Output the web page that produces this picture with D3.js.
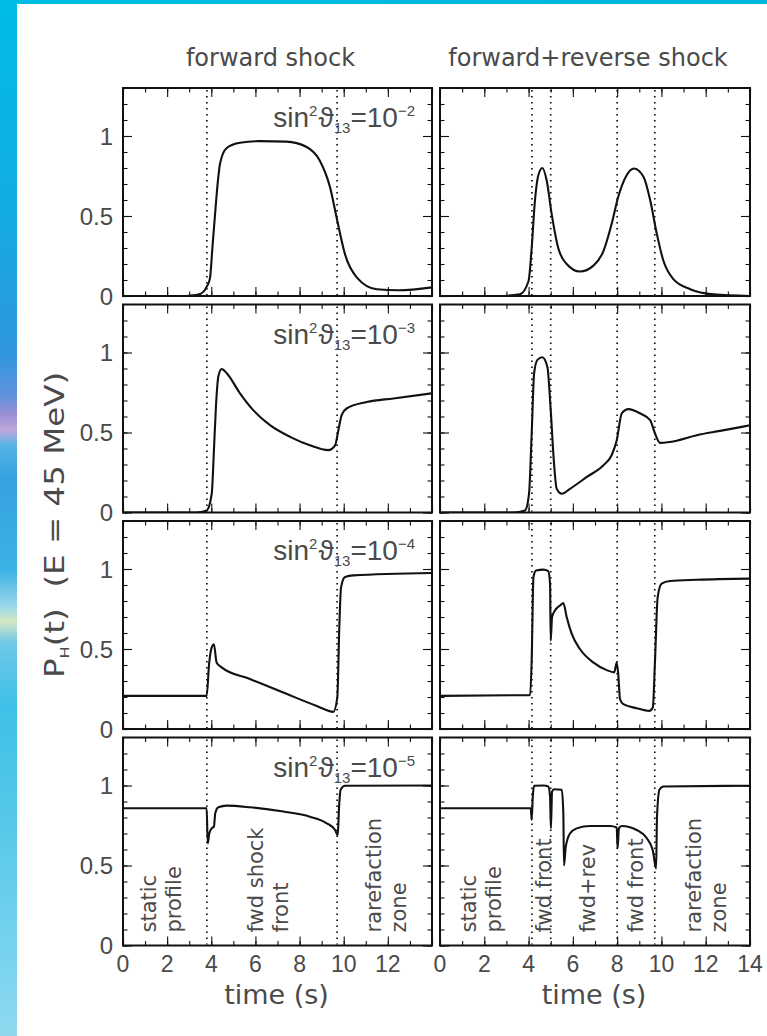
<!DOCTYPE html>
<html>
<head>
<meta charset="utf-8">
<script src="https://cdn.jsdelivr.net/npm/d3@7"></script>
<style>
  html, body { margin: 0; padding: 0; background: #fff; }
  svg { display: block; }
</style>
</head>
<body>
<svg id="chart" width="767" height="1036"></svg>
<script>
// ---------- data ----------
const timeTicks = [0, 2, 4, 6, 8, 10, 12, 14];
const probTicks = [0, 0.5, 1];
const columnTitles = ["forward shock", "forward+reverse shock"];
const mixingExponents = ["\u22122", "\u22123", "\u22124", "\u22125"];

// shock-front crossing times (s)
const fwdBoundaries = [3.8, 9.7];
const fwdRevBoundaries = [4.15, 5.0, 8.0, 9.7];

// zone captions in the lowest row, centred on a time value
const fwdZones = [
  { t: 1.7,  lines: ["static", "profile"] },
  { t: 6.55, lines: ["fwd shock", "front"] },
  { t: 11.9, lines: ["rarefaction", "zone"] }
];
const fwdRevZones = [
  { t: 1.83, lines: ["static", "profile"] },
  { t: 4.65, lines: ["fwd front"] },
  { t: 6.64, lines: ["fwd+rev"] },
  { t: 8.81, lines: ["fwd front"] },
  { t: 11.99, lines: ["rarefaction", "zone"] }
];

// P_H(t) at E = 45 MeV, [time (s), probability]
const fwd_1e2 = [[0,0],[2.7,0],[3.0,0.002],[3.5,0.013],[3.8,0.06],[3.94,0.11],[4.05,0.3],[4.17,0.51],[4.3,0.72],[4.4,0.83],[4.7,0.925],[5.3,0.958],[6.2,0.968],[7.4,0.965],[8.3,0.933],[8.9,0.85],[9.38,0.68],[9.71,0.47],[10.06,0.26],[10.6,0.115],[11.5,0.042],[12.5,0.036],[14,0.054]];
const fwdRev_1e2 = [[0,0],[2.6,0],[3.6,0.01],[4.0,0.094],[4.14,0.30],[4.29,0.60],[4.44,0.755],[4.62,0.80],[4.82,0.72],[5.04,0.515],[5.34,0.30],[5.72,0.20],[6.32,0.153],[6.93,0.19],[7.38,0.28],[7.75,0.45],[8.05,0.62],[8.43,0.755],[8.76,0.797],[9.19,0.745],[9.49,0.60],[9.79,0.39],[10.09,0.22],[10.54,0.105],[11.3,0.042],[12.35,0.01],[14,0]];

const fwd_1e3 = [[0,0],[3.3,0],[3.79,0.013],[4.02,0.117],[4.12,0.39],[4.21,0.66],[4.32,0.85],[4.47,0.897],[4.7,0.87],[5.3,0.745],[5.9,0.64],[6.66,0.546],[7.57,0.473],[8.47,0.42],[9.3,0.39],[9.61,0.42],[9.76,0.515],[9.91,0.61],[10.13,0.65],[11.04,0.69],[12.25,0.713],[14,0.745]];
const fwdRev_1e3 = [[0,0],[3.3,0],[3.84,0.013],[4.02,0.117],[4.14,0.49],[4.25,0.87],[4.4,0.954],[4.62,0.97],[4.85,0.91],[5.0,0.64],[5.15,0.305],[5.27,0.148],[5.5,0.117],[5.87,0.148],[6.63,0.222],[7.38,0.295],[7.75,0.358],[7.98,0.45],[8.21,0.62],[8.51,0.646],[9.03,0.62],[9.49,0.577],[9.71,0.494],[9.94,0.435],[10.39,0.441],[11.6,0.483],[12.65,0.51],[14,0.545]];

const fwd_1e4 = [[0,0.207],[3.79,0.207],[3.9,0.406],[4.02,0.51],[4.12,0.53],[4.24,0.416],[4.47,0.385],[5.75,0.312],[7.26,0.228],[8.78,0.144],[9.53,0.107],[9.71,0.197],[9.8,0.636],[9.88,0.887],[10.06,0.95],[10.44,0.96],[14,0.975]];
const fwdRev_1e4 = [[0,0.207],[4.07,0.212],[4.14,0.427],[4.22,0.95],[4.34,0.99],[4.67,0.996],[4.89,0.987],[4.97,0.908],[5.0,0.552],[5.06,0.70],[5.19,0.74],[5.42,0.772],[5.57,0.787],[5.72,0.70],[5.95,0.594],[6.32,0.50],[6.92,0.416],[7.53,0.368],[7.87,0.354],[7.98,0.416],[8.05,0.343],[8.13,0.186],[8.28,0.155],[8.88,0.13],[9.45,0.113],[9.61,0.134],[9.71,0.427],[9.83,0.824],[10.01,0.908],[10.39,0.925],[11.6,0.933],[14,0.94]];

const fwd_1e5 = [[0,0.858],[3.79,0.858],[3.84,0.638],[3.91,0.70],[4.02,0.732],[4.12,0.743],[4.18,0.826],[4.32,0.864],[4.7,0.874],[5.75,0.864],[7.26,0.837],[8.47,0.805],[9.23,0.764],[9.61,0.722],[9.73,0.69],[9.79,0.868],[9.86,0.973],[10.06,0.998],[14,1.0]];
const fwdRev_1e5 = [[0,0.858],[4.1,0.858],[4.14,0.785],[4.19,0.93],[4.25,0.998],[4.67,1.0],[4.89,0.994],[4.97,0.93],[5.01,0.732],[5.06,0.962],[5.15,0.977],[5.5,0.973],[5.57,0.826],[5.6,0.50],[5.68,0.617],[5.87,0.70],[6.17,0.732],[6.78,0.747],[7.68,0.747],[7.98,0.738],[8.02,0.607],[8.08,0.732],[8.21,0.747],[8.88,0.722],[9.34,0.67],[9.61,0.596],[9.76,0.481],[9.8,0.805],[9.91,0.973],[10.09,0.994],[14,0.998]];

const curves = [
  [fwd_1e2, fwdRev_1e2],
  [fwd_1e3, fwdRev_1e3],
  [fwd_1e4, fwdRev_1e4],
  [fwd_1e5, fwdRev_1e5]
];
const boundaries = [fwdBoundaries, fwdRevBoundaries];
const zones = [fwdZones, fwdRevZones];

// ---------- layout ----------
const svg = d3.select("#chart");
const W = 767, H = 1036;
const colX = [123, 440], colW = [309, 310];
const rowY = [88, 304.5, 521, 737.5], rowH = 208;
const ink = "#111", textInk = "#4a4a4a";
const tickFont = "'Liberation Sans', Arial, sans-serif";
const labelFont = "'DejaVu Sans', Verdana, sans-serif";

// ---------- decorative frame ----------
const defs = svg.append("defs");
const strip = defs.append("linearGradient").attr("id", "strip")
  .attr("x1", 0).attr("y1", 0).attr("x2", 0).attr("y2", 1);
[[0, "#00bde6"], [0.2, "#12ace3"], [0.34, "#2f96df"], [0.38, "#5c93dc"], [0.4, "#9a8fd6"], [0.415, "#c0a8da"],
 [0.43, "#55b3e6"], [0.46, "#36a2e0"], [0.55, "#3cb2e5"], [0.585, "#9ad6ea"], [0.6, "#d3e9c4"],
 [0.62, "#70c8e8"], [0.68, "#3fc0e8"], [0.8, "#58c9ea"], [1, "#8ed9f0"]]
  .forEach(([o, c]) => strip.append("stop").attr("offset", o).attr("stop-color", c));
const topBand = defs.append("linearGradient").attr("id", "topband")
  .attr("x1", 0).attr("y1", 0).attr("x2", 1).attr("y2", 0);
[[0, "#00bde6"], [1, "#03b6dc"]].forEach(([o, c]) => topBand.append("stop").attr("offset", o).attr("stop-color", c));

svg.append("rect").attr("width", W).attr("height", H).attr("fill", "#fff");
svg.append("rect").attr("width", W).attr("height", 4).attr("fill", "url(#topband)");
svg.append("rect").attr("width", 17).attr("height", H).attr("fill", "url(#strip)");

// ---------- panels ----------
const line = d3.line().curve(d3.curveMonotoneX);

columnTitles.forEach((title, c) => {
  svg.append("text")
    .attr("x", colX[c] + colW[c] / 2 - 7).attr("y", 66)
    .attr("text-anchor", "middle")
    .attr("font-family", labelFont).attr("font-size", 24)
    .attr("fill", textInk).text(title);
});

for (let r = 0; r < 4; r++) {
  for (let c = 0; c < 2; c++) {
    const x = d3.scaleLinear().domain([0, 14]).range([colX[c], colX[c] + colW[c]]);
    const y = d3.scaleLinear().domain([0, 1.3]).range([rowY[r] + rowH, rowY[r]]);
    const g = svg.append("g");
    const clipId = `clip-${r}-${c}`;
    defs.append("clipPath").attr("id", clipId).append("rect")
      .attr("x", colX[c]).attr("y", rowY[r]).attr("width", colW[c]).attr("height", rowH);

    // inward ticks on all four sides
    const minorP = d3.range(0, 13).map(i => i / 10);
    const minorT = d3.range(0, 15);
    const tickSets = [
      [d3.axisRight(y), colX[c], 0, minorP, probTicks],
      [d3.axisLeft(y), colX[c] + colW[c], 0, minorP, probTicks],
      [d3.axisTop(x), 0, rowY[r] + rowH, minorT, timeTicks],
      [d3.axisBottom(x), 0, rowY[r], minorT, timeTicks]
    ];
    tickSets.forEach(([axis, tx, ty, minor, major]) => {
      [[minor, 4.5], [major, 9]].forEach(([vals, len]) => {
        const a = g.append("g").attr("transform", `translate(${tx},${ty})`)
          .call(axis.tickValues(vals).tickSize(len).tickFormat(""));
        a.select(".domain").remove();
        a.selectAll("line").attr("stroke", ink).attr("stroke-width", 1.1);
      });
    });

    // dotted shock-front markers
    g.selectAll(".bound").data(boundaries[c]).join("line")
      .attr("x1", d => x(d)).attr("x2", d => x(d))
      .attr("y1", rowY[r] + 2).attr("y2", rowY[r] + rowH - 1)
      .attr("stroke", ink).attr("stroke-width", 1.7)
      .attr("stroke-dasharray", "1.5,4.5").attr("stroke-linecap", "butt");

    // probability curve
    g.append("path")
      .attr("clip-path", `url(#${clipId})`)
      .attr("d", line(curves[r][c].map(([t, p]) => [x(t), y(p)])))
      .attr("fill", "none").attr("stroke", ink).attr("stroke-width", 2.1)
      .attr("stroke-linejoin", "round");

    // frame
    g.append("rect")
      .attr("x", colX[c]).attr("y", rowY[r]).attr("width", colW[c]).attr("height", rowH)
      .attr("fill", "none").attr("stroke", ink).attr("stroke-width", 2);

    // mixing-angle label
    if (c === 0) {
      const t = g.append("text")
        .attr("x", colX[c] + colW[c] - 17).attr("y", rowY[r] + 39)
        .attr("text-anchor", "end")
        .attr("font-family", tickFont).attr("font-size", 28).attr("fill", textInk);
      t.append("tspan").text("sin");
      t.append("tspan").attr("dy", -11).attr("font-size", 15).text("2");
      t.append("tspan").attr("dy", 11).attr("dx", 1).text("\u03D1");
      t.append("tspan").attr("dy", 6).attr("font-size", 15).text("13");
      t.append("tspan").attr("dy", -6).text("=10");
      t.append("tspan").attr("dy", -11).attr("font-size", 15).text(mixingExponents[r]);

      // y tick labels
      g.selectAll(".ylab").data(probTicks).join("text")
        .attr("x", colX[c] - 10).attr("y", d => y(d)).attr("dy", "0.36em")
        .attr("text-anchor", "end")
        .attr("font-family", tickFont).attr("font-size", 24).attr("fill", textInk)
        .text(d => d3.format("~g")(d));
    }

    if (r === 3) {
      // time tick labels (the left column leaves 14 to its neighbour's 0)
      const labels = c === 0 ? timeTicks.filter(v => v < 14) : timeTicks;
      g.selectAll(".xlab").data(labels).join("text")
        .attr("x", d => x(d)).attr("y", rowY[r] + rowH + 26)
        .attr("text-anchor", "middle")
        .attr("font-family", tickFont).attr("font-size", 23).attr("fill", textInk)
        .text(d => d);
      g.append("text")
        .attr("x", colX[c] + colW[c] / 2 - 1).attr("y", rowY[r] + rowH + 58)
        .attr("text-anchor", "middle")
        .attr("font-family", labelFont).attr("font-size", 27).attr("fill", textInk)
        .text("time (s)");

      // zone captions, rotated
      zones[c].forEach(z => {
        z.lines.forEach((txt, i) => {
          const cx = x(z.t) + (i - (z.lines.length - 1) / 2) * 25;
          g.append("text")
            .attr("transform", `translate(${cx},${rowY[r] + rowH - 13}) rotate(-90)`)
            .attr("dy", "0.36em")
            .attr("font-family", labelFont).attr("font-size", 21).attr("fill", textInk)
            .text(txt);
        });
      });
    }
  }
}

// vertical axis title
const yTitle = svg.append("text")
  .attr("transform", "translate(64,525) rotate(-90) scale(1.25,1)")
  .attr("text-anchor", "middle")
  .attr("font-family", labelFont).attr("font-size", 26).attr("fill", textInk);
yTitle.append("tspan").text("P");
yTitle.append("tspan").attr("dy", 5).attr("font-size", 13).text("H");
yTitle.append("tspan").attr("dy", -5).text("(t)\u00A0\u00A0(E = 45\u00A0MeV)");
</script>
</body>
</html>
